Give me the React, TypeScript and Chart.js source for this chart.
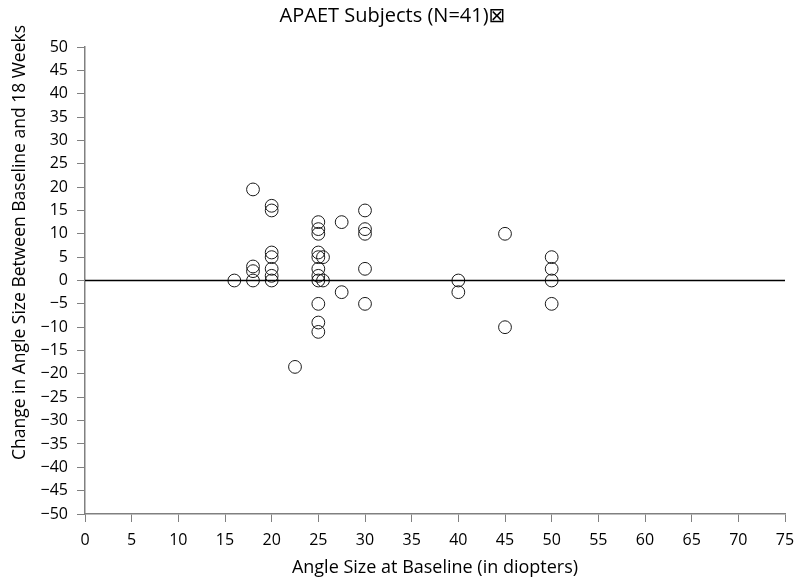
import React, { useEffect, useRef } from "react";
import { Chart, registerables } from "chart.js";

Chart.register(...registerables);

const chartTitle = "APAET Subjects (N=41)\u22A0";
const xAxisTitle = "Angle Size at Baseline (in diopters)";
const yAxisTitle = "Change in Angle Size Between Baseline and 18 Weeks";

const baselineAngle: number[] = [
  16,
  18, 18, 18, 18,
  20, 20, 20, 20, 20, 20, 20,
  22.5,
  25, 25, 25, 25, 25, 25, 25, 25, 25, 25, 25,
  25.5, 25.5,
  27.5, 27.5,
  30, 30, 30, 30, 30,
  40, 40,
  45, 45,
  50, 50, 50, 50,
];
const angleChange: number[] = [
  0,
  19.5, 3, 2, 0,
  16, 15, 6, 5, 2.5, 1, 0,
  -18.5,
  12.5, 11, 10, 6, 5, 2.5, 1, 0, -5, -9, -11,
  5, 0,
  12.5, -2.5,
  15, 11, 10, 2.5, -5,
  0, -2.5,
  10, -10,
  5, 2.5, 0, -5,
];
const refLineX: number[] = [0, 75];
const refLineY: number[] = [0, 0];

const xMin = 0, xMax = 75, xStep = 5;
const yMin = -50, yMax = 50, yStep = 5;

const tickFont = "'Open Sans', 'DejaVu Sans', sans-serif";
const labelFont = "'Open Sans', 'DejaVu Sans', sans-serif";

const fmtTick = (v: any) => String(v).replace("-", "\u2212");

export default function App() {
  const ref = useRef<HTMLCanvasElement | null>(null);

  useEffect(() => {
    document.body.style.margin = "0";
    const canvas = ref.current;
    if (!canvas) return;

    const yTitlePlugin = {
      id: "yTitlePlugin",
      afterDraw(chart: any) {
        const { ctx, chartArea } = chart;
        ctx.save();
        ctx.fillStyle = "#000";
        ctx.font = `17.5px ${labelFont}`;
        ctx.textAlign = "center";
        ctx.textBaseline = "middle";
        ctx.translate(20, (chartArea.top + chartArea.bottom) / 2 - 38);
        ctx.rotate(-Math.PI / 2);
        ctx.fillText(yAxisTitle, 0, 0);
        ctx.restore();
      },
    };

    const chart = new Chart(canvas, {
      type: "scatter",
      data: {
        datasets: [
          {
            type: "line",
            data: refLineX.map((x, i) => ({ x, y: refLineY[i] })),
            borderColor: "#000",
            borderWidth: 1.6,
            pointRadius: 0,
            showLine: true,
            fill: false,
          } as any,
          {
            data: baselineAngle.map((x, i) => ({ x, y: angleChange[i] })),
            pointRadius: 6.4,
            pointBorderWidth: 1,
            pointBorderColor: "#1a1a1a",
            pointBackgroundColor: "rgba(0,0,0,0)",
            borderColor: "#1a1a1a",
            backgroundColor: "rgba(0,0,0,0)",
          },
        ],
      },
      options: {
        animation: false,
        responsive: false,
        maintainAspectRatio: false,
        layout: { padding: { left: 0, right: 15, top: 0, bottom: 0 } },
        plugins: {
          legend: { display: false },
          tooltip: { enabled: false },
          title: {
            display: true,
            text: chartTitle,
            color: "#000",
            font: { family: labelFont, size: 20, weight: "normal" },
            padding: { top: 4, bottom: 19 },
          },
        },
        scales: {
          x: {
            type: "linear",
            min: xMin,
            max: xMax,
            afterFit(scale: any) {
              scale.height = 69;
              scale.paddingRight = Math.min(scale.paddingRight, 12);
              scale.paddingLeft = Math.min(scale.paddingLeft, 12);
            },
            ticks: {
              stepSize: xStep,
              color: "#000",
              padding: 9,
              font: { family: tickFont, size: 16 },
              callback: fmtTick,
            },
            grid: {
              drawOnChartArea: false,
              drawTicks: true,
              tickLength: 8,
              color: "#808080",
              lineWidth: 1,
            },
            border: { color: "#808080", width: 1.5 },
            title: {
              display: true,
              text: xAxisTitle,
              color: "#000",
              font: { family: labelFont, size: 18 },
              padding: { top: 0, bottom: 4 },
            },
          },
          y: {
            type: "linear",
            min: yMin,
            max: yMax,
            afterFit(scale: any) {
              scale.width = 85;
            },
            ticks: {
              stepSize: yStep,
              color: "#000",
              padding: 9,
              font: { family: tickFont, size: 16 },
              callback: fmtTick,
            },
            grid: {
              drawOnChartArea: false,
              drawTicks: true,
              tickLength: 8,
              color: "#808080",
              lineWidth: 1,
            },
            border: { color: "#808080", width: 1.5 },
          },
        },
      } as any,
      plugins: [yTitlePlugin],
    });

    return () => chart.destroy();
  }, []);

  return (
    <div style={{ width: 800, height: 583, background: "#fff" }}>
      <canvas ref={ref} width={800} height={583} style={{ display: "block" }} />
    </div>
  );
}
